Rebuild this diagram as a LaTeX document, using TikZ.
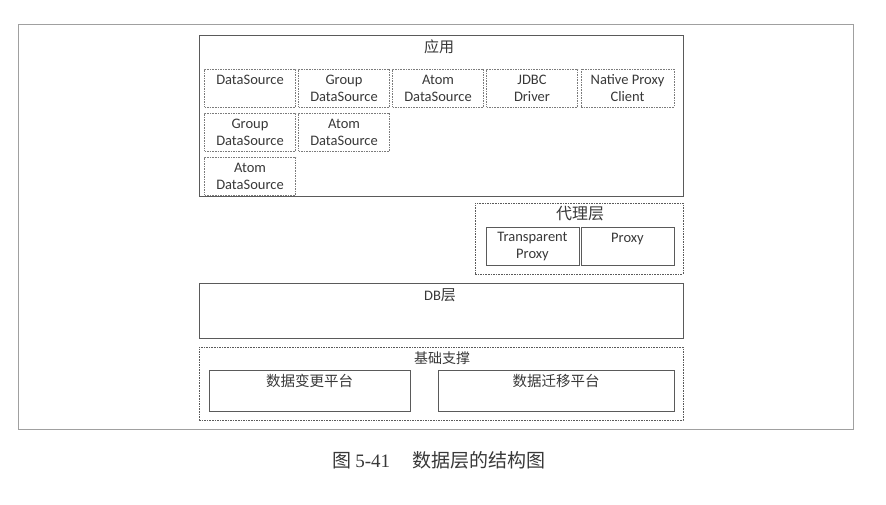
\documentclass[tikz,border=0pt]{standalone}
\usepackage{fontspec}
\setmainfont{Carlito}
\newfontfamily\cjk{Noto Sans CJK SC}
\newfontfamily\capserif{Liberation Serif}
\definecolor{framegray}{HTML}{A0A0A0}
\definecolor{linegray}{HTML}{5A5A5A}
\definecolor{txtgray}{HTML}{383838}
\tikzstyle{layer}=[rectangle,draw=linegray,line width=0.9pt,inner sep=0pt]
\tikzstyle{dlayer}=[rectangle,draw=linegray,line width=0.6pt,dash pattern=on 1.6pt off 1pt,inner sep=0pt]
\tikzstyle{dsbox}=[rectangle,draw=linegray!80,line width=0.6pt,dash pattern=on 1.6pt off 1pt,minimum width=91pt,minimum height=38pt,inner sep=0pt,align=center,text=txtgray,font=\fontsize{14.5}{17}\selectfont]
\tikzstyle{pbox}=[rectangle,draw=linegray,line width=0.9pt,minimum width=93pt,minimum height=38pt,inner sep=0pt,align=center,text=txtgray,font=\fontsize{14.5}{17}\selectfont]
\tikzstyle{title}=[text=txtgray,font=\cjk\fontsize{15}{18}\selectfont,inner sep=0pt]

\begin{document}
\begin{tikzpicture}[x=1pt,y=-1pt]
    \useasboundingbox (0,0) rectangle (886,504);
    \draw[framegray,line width=1pt] (18,24) rectangle (853,429);

    % application layer
    \node[layer,minimum width=484pt,minimum height=161pt] (app) at (441,115.5) {};
    \node[title] (apptitle) at (439,47) {应用};
    \node[dsbox] (r1c1) at (250,88) {DataSource\\\phantom{X}};
    \node[dsbox] (r1c2) at (344,88) {Group\\DataSource};
    \node[dsbox] (r1c3) at (438,88) {Atom\\DataSource};
    \node[dsbox] (r1c4) at (532,88) {JDBC\\Driver};
    \node[dsbox,minimum width=93pt] (r1c5) at (627.5,88) {Native Proxy\\Client};
    \node[dsbox] (r2c1) at (250,132) {Group\\DataSource};
    \node[dsbox] (r2c2) at (344,132) {Atom\\DataSource};
    \node[dsbox] (r3c1) at (250,176) {Atom\\DataSource};

    % proxy layer
    \node[dlayer,minimum width=208pt,minimum height=71pt] (proxylayer) at (579,238.5) {};
    \node[title,font=\cjk\fontsize{16}{18}\selectfont] (proxytitle) at (580,214) {代理层};
    \node[pbox] (tproxy) at (532.5,246.5) {Transparent\\Proxy};
    \node[pbox] (proxy) at (627.5,246.5) {Proxy\\\phantom{X}};

    % db layer
    \node[layer,minimum width=484pt,minimum height=55pt] (db) at (441,310.5) {};
    \node[title,font=\fontsize{14.5}{18}\selectfont] (dbtitle) at (440,295) {DB{\cjk\fontsize{15}{18}\selectfont 层}};

    % base support
    \node[dlayer,minimum width=484pt,minimum height=73pt] (base) at (441,383.5) {};
    \node[title,font=\cjk\fontsize{14}{18}\selectfont] (basetitle) at (442,358) {基础支撑};
    \node[layer,minimum width=201pt,minimum height=41pt] (change) at (309.5,390.5) {};
    \node[layer,minimum width=236pt,minimum height=41pt] (migrate) at (556,390.5) {};
    \node[title,font=\cjk\fontsize{14.5}{18}\selectfont] (changetitle) at (309.5,381) {数据变更平台};
    \node[title,font=\cjk\fontsize{14.5}{18}\selectfont] (migratetitle) at (556,381) {数据迁移平台};

    \node[text=txtgray,font=\fontsize{19}{22}\selectfont,inner sep=0pt] (caption) at (439,460)
        {{\cjk 图} {\capserif 5-41}\hspace{1.2em}{\cjk 数据层的结构图}};
\end{tikzpicture}
\end{document}
